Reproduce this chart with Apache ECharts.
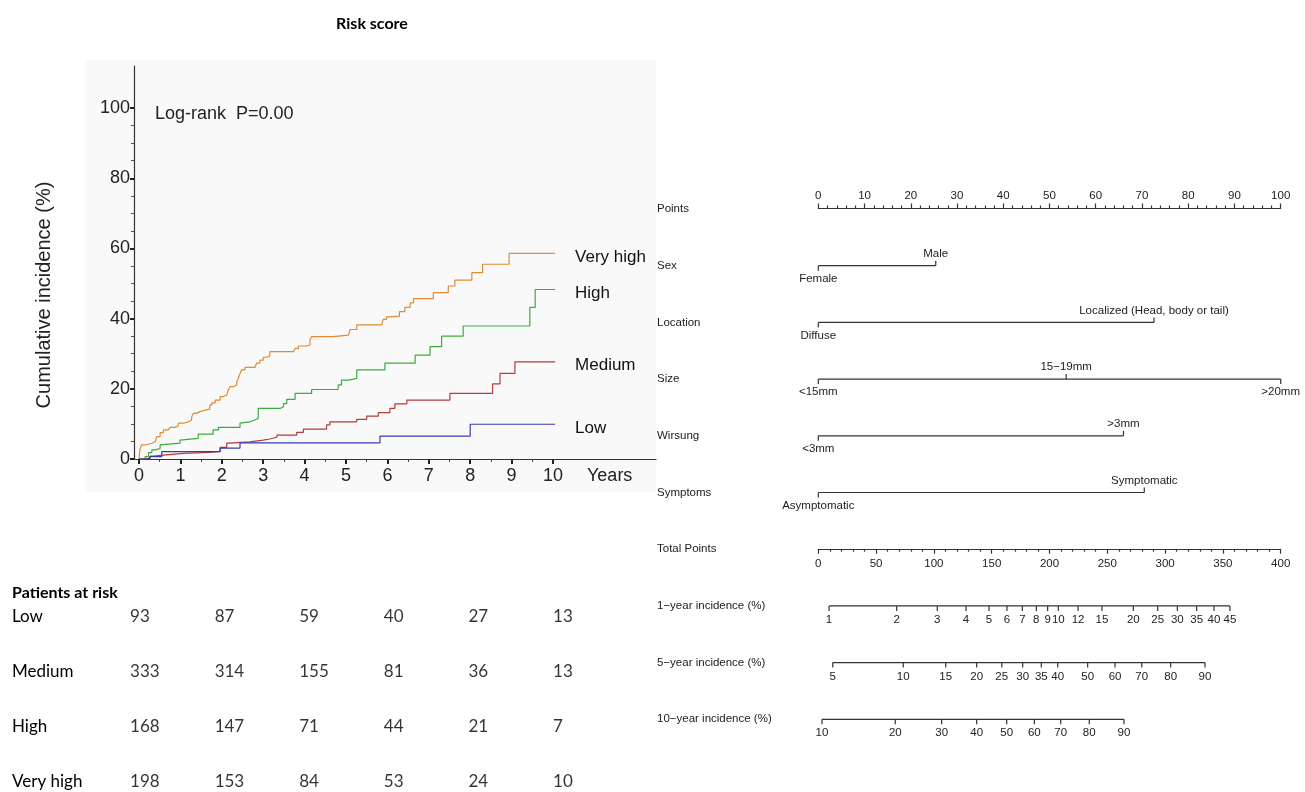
<!DOCTYPE html>
<html>
<head>
<meta charset="utf-8">
<script src="https://cdn.jsdelivr.net/npm/echarts@6/dist/echarts.min.js"></script>
<style>
  html, body { margin: 0; padding: 0; background: #ffffff; }
  #chart { width: 1305px; height: 792px; }
</style>
</head>
<body>
<div id="chart"></div>
<script>
// Cumulative incidence step curves by risk group: [years, %]
const kmVeryHigh = [[0,0],[0.02,2.6],[0.06,4.0],[0.15,4.5],[0.31,4.9],[0.39,5.4],[0.43,6.4],[0.51,7.5],[0.59,8.3],[0.71,8.5],[0.75,9.0],[0.87,9.4],[0.95,10.2],[1.07,10.6],[1.19,11.1],[1.27,11.9],[1.31,13.0],[1.39,13.5],[1.47,14.0],[1.63,14.2],[1.71,15.4],[1.76,16.0],[1.84,16.8],[1.96,17.8],[2.04,18.2],[2.12,18.7],[2.16,19.8],[2.2,20.6],[2.28,21.1],[2.36,22.0],[2.4,23.0],[2.44,24.4],[2.48,25.4],[2.56,26.1],[2.8,26.3],[2.84,27.3],[2.92,28.2],[3.0,29.0],[3.08,29.4],[3.16,30.6],[3.73,31.0],[3.77,31.5],[3.85,32.2],[4.05,32.5],[4.13,33.9],[4.17,34.9],[4.69,35.3],[5.06,35.8],[5.1,36.9],[5.26,38.2],[5.86,38.4],[5.9,39.8],[5.98,40.5],[6.06,40.7],[6.29,42.0],[6.42,43.2],[6.55,44.5],[6.63,45.7],[7.11,47.4],[7.47,49.3],[7.63,51.0],[8.04,53.1],[8.3,55.5],[8.94,58.6],[10.05,58.6]];
const kmHigh = [[0,0],[0.15,0.7],[0.23,1.8],[0.31,2.6],[0.39,3.0],[0.51,4.0],[0.55,4.5],[0.99,5.4],[1.03,5.9],[1.43,7.1],[1.79,8.3],[1.92,9.0],[2.44,10.2],[2.48,10.6],[2.68,11.1],[2.8,11.6],[2.88,14.4],[3.41,14.9],[3.49,15.8],[3.57,17.0],[3.77,18.7],[4.17,19.8],[4.81,21.1],[4.89,22.5],[5.06,23.0],[5.26,25.4],[5.94,27.3],[6.67,29.6],[7.03,32.0],[7.31,35.0],[7.83,37.9],[9.44,43.2],[9.57,48.3],[10.05,48.3]];
const kmMedium = [[0,0],[0.15,0.2],[0.27,0.85],[0.35,1.1],[0.59,1.6],[1.07,1.9],[1.71,2.2],[1.96,3.3],[2.12,4.5],[2.2,4.9],[2.68,5.4],[3.0,5.7],[3.16,6.2],[3.33,6.8],[3.81,7.6],[3.97,8.5],[4.53,9.7],[4.61,10.6],[5.26,11.3],[5.5,12.2],[5.78,13.2],[6.06,14.4],[6.18,15.7],[6.47,16.8],[7.51,18.7],[8.54,21.4],[8.72,24.4],[9.08,27.7],[10.05,27.7]];
const kmLow = [[0,0],[0.23,0],[0.27,0.7],[0.55,2.1],[1.96,3.1],[2.44,4.6],[5.82,6.5],[8.0,9.9],[10.05,9.9]];

const yearTicks = [0,1,2,3,4,5,6,7,8,9,10];
const yearMinorTicks = [0.5,1.5,2.5,3.5,4.5,5.5,6.5,7.5,8.5,9.5];
const pctTicks = [0,20,40,60,80,100];
const pctMinorTicks = [5,10,15,25,30,35,45,50,55,65,70,75,85,90,95];

// Patients at risk table
const riskGroups = ['Low','Medium','High','Very high'];
const riskTimes = [0,2,4,6,8,10];
const atRiskLow = [93,87,59,40,27,13];
const atRiskMedium = [333,314,155,81,36,13];
const atRiskHigh = [168,147,71,44,21,7];
const atRiskVeryHigh = [198,153,84,53,24,10];

// Nomogram
const nomoRows = ['Points','Sex','Location','Size','Wirsung','Symptoms','Total Points','1\u2212year incidence (%)','5\u2212year incidence (%)','10\u2212year incidence (%)'];
const sexLevels = ['Female','Male'];
const sexPoints = [0, 25.4];
const locationLevels = ['Diffuse','Localized (Head, body or tail)'];
const locationPoints = [0, 72.6];
const sizeLevels = ['<15mm','15\u221219mm','>20mm'];
const sizePoints = [0, 53.6, 100];
const wirsungLevels = ['<3mm','>3mm'];
const wirsungPoints = [0, 66];
const symptomsLevels = ['Asymptomatic','Symptomatic'];
const symptomsPoints = [0, 70.5];

const inc1Labels = ['1','2','3','4','5','6','7','8','9','10','12','15','20','25','30','35','40','45'];
const inc1Totals = [9.3,67.8,102.9,127.8,147.7,163.2,176.5,188.6,198.4,207.6,224.7,245.4,272.5,293.6,310.6,327.3,342.3,356.1];
const inc5Labels = ['5','10','15','20','25','30','35','40','50','60','70','80','90'];
const inc5Totals = [12.5,73.5,110.2,137.0,158.7,176.8,192.9,207.1,233.0,256.7,279.8,304.8,334.5];
const inc10Labels = ['10','20','30','40','50','60','70','80','90'];
const inc10Totals = [3.2,66.6,106.7,137.0,163.0,186.9,209.7,234.4,264.4];

const variables = [
  { row: 1, levels: sexLevels, points: sexPoints },
  { row: 2, levels: locationLevels, points: locationPoints },
  { row: 3, levels: sizeLevels, points: sizePoints },
  { row: 4, levels: wirsungLevels, points: wirsungPoints },
  { row: 5, levels: symptomsLevels, points: symptomsPoints }
];
const incidenceScales = [
  { row: 7, labels: inc1Labels, totals: inc1Totals },
  { row: 8, labels: inc5Labels, totals: inc5Totals },
  { row: 9, labels: inc10Labels, totals: inc10Totals }
];

const FONT = '"Liberation Sans", Arial, sans-serif';
const TABLE_FONT = 'Lato, "Open Sans", sans-serif';
const INK = '#333333';
const NOMO_SIZE = 11.5;
const NOMO_TEXT = 'normal ' + NOMO_SIZE + 'px "Liberation Sans", Arial, sans-serif';

function renderVariable(params, api) {
  const v = variables[params.dataIndex];
  const y = api.coord([0, v.row])[1];
  const xs = v.points.map(p => api.coord([p, v.row])[0]);
  const children = [{
    type: 'line',
    shape: { x1: Math.min(...xs), y1: y, x2: Math.max(...xs), y2: y },
    style: { stroke: INK, lineWidth: 1.2 }
  }];
  xs.forEach((x, i) => {
    const below = i % 2 === 0;
    children.push({
      type: 'line',
      shape: { x1: x, y1: y, x2: x, y2: below ? y + 5 : y - 5 },
      style: { stroke: INK, lineWidth: 1.2 }
    });
    children.push({
      type: 'text',
      style: {
        text: v.levels[i], x: x, y: below ? y + 13 : y - 12,
        textAlign: 'center', textVerticalAlign: 'middle',
        font: NOMO_TEXT, fill: '#222'
      }
    });
  });
  return { type: 'group', children };
}

function renderScale(params, api) {
  const s = incidenceScales[params.dataIndex];
  const y = api.coord([0, s.row])[1];
  const xs = s.totals.map(t => api.coord([t, s.row])[0]);
  const children = [{
    type: 'line',
    shape: { x1: xs[0], y1: y, x2: xs[xs.length - 1], y2: y },
    style: { stroke: INK, lineWidth: 1.2 }
  }];
  xs.forEach((x, i) => {
    children.push({
      type: 'line',
      shape: { x1: x, y1: y, x2: x, y2: y + 5 },
      style: { stroke: INK, lineWidth: 1.2 }
    });
    children.push({
      type: 'text',
      style: {
        text: s.labels[i], x: x, y: y + 14,
        textAlign: 'center', textVerticalAlign: 'middle',
        font: NOMO_TEXT, fill: '#222'
      }
    });
  });
  return { type: 'group', children };
}

const tableData = [];
[atRiskLow, atRiskMedium, atRiskHigh, atRiskVeryHigh].forEach((counts, g) => {
  counts.forEach((c, i) => tableData.push([riskTimes[i], g, c]));
});

function kmSeries(name, data, color) {
  return {
    type: 'line', name, data, step: 'end',
    xAxisIndex: 0, yAxisIndex: 0,
    showSymbol: false, symbol: 'none',
    lineStyle: { color, width: 1.2 },
    itemStyle: { color },
    endLabel: {
      show: true, formatter: '{a}', distance: 20, offset: [0, 4],
      fontFamily: FONT, fontSize: 17, color: '#111'
    },
    z: 3
  };
}

const kmXMin = -0.1208, kmXMax = 12.488;

const option = {
  animation: false,
  backgroundColor: '#ffffff',
  textStyle: { fontFamily: FONT },
  grid: [
    { left: 134, right: 649, top: 66, bottom: 333 },          // KM panel
    { left: 818.3, right: 24.3, top: 208, height: 1 },          // Points axis
    { left: 818.3, right: 24.3, top: 180.65, height: 567 },     // Nomogram rows
    { left: 818.3, right: 24.3, top: 548.2, height: 1 },        // Total points axis
    { left: 130, right: 752, top: 617, bottom: 10 }             // Risk table
  ],
  xAxis: [
    {
      gridIndex: 0, type: 'value', min: kmXMin, max: kmXMax, position: 'bottom',
      axisLine: { show: true, onZero: false, lineStyle: { color: INK, width: 1.2 } },
      axisTick: { show: true, customValues: yearTicks, length: 5, lineStyle: { color: '#222', width: 2 } },
      axisLabel: { show: true, customValues: yearTicks, fontSize: 18, color: '#222', margin: 8, fontFamily: FONT },
      splitLine: { show: false }
    },
    {
      gridIndex: 0, type: 'value', min: kmXMin, max: kmXMax, position: 'bottom',
      axisLine: { show: false },
      axisTick: { show: true, customValues: yearMinorTicks, length: 3, lineStyle: { color: '#444', width: 1 } },
      axisLabel: { show: false },
      splitLine: { show: false }
    },
    {
      gridIndex: 1, type: 'value', min: 0, max: 100, interval: 10, position: 'top',
      axisLine: { show: true, onZero: false, lineStyle: { color: INK, width: 1.2 } },
      axisTick: { show: true, length: 4.5, lineStyle: { color: INK, width: 1.2 } },
      minorTick: { show: true, splitNumber: 5, length: 2.5, lineStyle: { color: INK, width: 1.2 } },
      axisLabel: { fontSize: NOMO_SIZE, color: '#222', margin: 6, fontFamily: FONT },
      splitLine: { show: false }
    },
    { gridIndex: 2, type: 'value', min: 0, max: 100, show: false },
    { gridIndex: 2, type: 'value', min: 0, max: 400, show: false },
    {
      gridIndex: 3, type: 'value', min: 0, max: 400, interval: 50, position: 'bottom',
      axisLine: { show: true, onZero: false, lineStyle: { color: INK, width: 1.2 } },
      axisTick: { show: true, length: 4.5, lineStyle: { color: INK, width: 1.2 } },
      minorTick: { show: true, splitNumber: 5, length: 2.5, lineStyle: { color: INK, width: 1.2 } },
      axisLabel: { fontSize: NOMO_SIZE, color: '#222', margin: 9, fontFamily: FONT },
      splitLine: { show: false }
    },
    { gridIndex: 4, type: 'value', min: 0, max: 10, show: false }
  ],
  yAxis: [
    {
      gridIndex: 0, type: 'value', min: 0, max: 112, position: 'left',
      axisLine: { show: true, onZero: false, lineStyle: { color: INK, width: 1.2 } },
      axisTick: { show: true, customValues: pctTicks, length: 4, lineStyle: { color: '#222', width: 2 } },
      axisLabel: { show: true, customValues: pctTicks, fontSize: 18, color: '#222', margin: 4, fontFamily: FONT },
      splitLine: { show: false }
    },
    {
      gridIndex: 0, type: 'value', min: 0, max: 112, position: 'left',
      axisLine: { show: false, onZero: false },
      axisTick: { show: true, customValues: pctMinorTicks, length: 3, lineStyle: { color: '#555', width: 1 } },
      axisLabel: { show: false },
      splitLine: { show: false }
    },
    { gridIndex: 1, type: 'value', show: false },
    {
      gridIndex: 2, type: 'category', data: nomoRows, inverse: true,
      axisLine: { show: false }, axisTick: { show: false },
      axisLabel: { align: 'left', margin: 161.3, fontSize: NOMO_SIZE, color: '#222', fontFamily: FONT, padding: [3, 0, 0, 0] },
      splitLine: { show: false }
    },
    { gridIndex: 3, type: 'value', show: false },
    {
      gridIndex: 4, type: 'category', data: riskGroups, inverse: true, boundaryGap: false,
      axisLine: { show: false }, axisTick: { show: false },
      axisLabel: { align: 'left', margin: 118, fontSize: 17, color: '#000', fontFamily: TABLE_FONT },
      splitLine: { show: false }
    }
  ],
  series: [
    kmSeries('Very high', kmVeryHigh, '#e38b35'),
    kmSeries('High', kmHigh, '#3aad3a'),
    kmSeries('Medium', kmMedium, '#b83a3a'),
    kmSeries('Low', kmLow, '#3a3ab8'),
    {
      type: 'custom', xAxisIndex: 3, yAxisIndex: 3,
      data: variables.map(v => [0, v.row]),
      renderItem: renderVariable, silent: true
    },
    {
      type: 'custom', xAxisIndex: 4, yAxisIndex: 3,
      data: incidenceScales.map(s => [s.totals[0], s.row]),
      renderItem: renderScale, silent: true
    },
    {
      type: 'scatter', xAxisIndex: 6, yAxisIndex: 5,
      data: tableData, symbolSize: 0.1,
      itemStyle: { color: 'rgba(0,0,0,0)' },
      label: {
        show: true, position: 'right', distance: 0,
        formatter: p => String(p.data[2]),
        fontFamily: TABLE_FONT, fontSize: 17, color: '#000'
      },
      silent: true
    }
  ],
  graphic: [
    { type: 'rect', z: -10, shape: { x: 86, y: 60, width: 570, height: 432 }, style: { fill: '#f9f9f9' } },
    { type: 'text', x: 372, y: 24, style: { text: 'Risk score', font: 'bold 16px Lato, sans-serif', fill: '#000', textAlign: 'center', textVerticalAlign: 'middle' } },
    { type: 'text', x: 155, y: 114, style: { text: 'Log-rank  P=0.00', font: '18px "Liberation Sans", Arial, sans-serif', fill: '#222', textAlign: 'left', textVerticalAlign: 'middle' } },
    { type: 'text', x: 44, y: 295, rotation: Math.PI / 2, style: { text: 'Cumulative incidence (%)', font: '20px "Liberation Sans", Arial, sans-serif', fill: '#222', textAlign: 'center', textVerticalAlign: 'middle' } },
    { type: 'text', x: 587, y: 476, style: { text: 'Years', font: '18px "Liberation Sans", Arial, sans-serif', fill: '#222', textAlign: 'left', textVerticalAlign: 'middle' } },
    { type: 'text', x: 12, y: 593, style: { text: 'Patients at risk', font: 'bold 16px Lato, sans-serif', fill: '#000', textAlign: 'left', textVerticalAlign: 'middle' } }
  ]
};

const chart = echarts.init(document.getElementById('chart'), null, { renderer: 'canvas' });
chart.setOption(option);
</script>
</body>
</html>
